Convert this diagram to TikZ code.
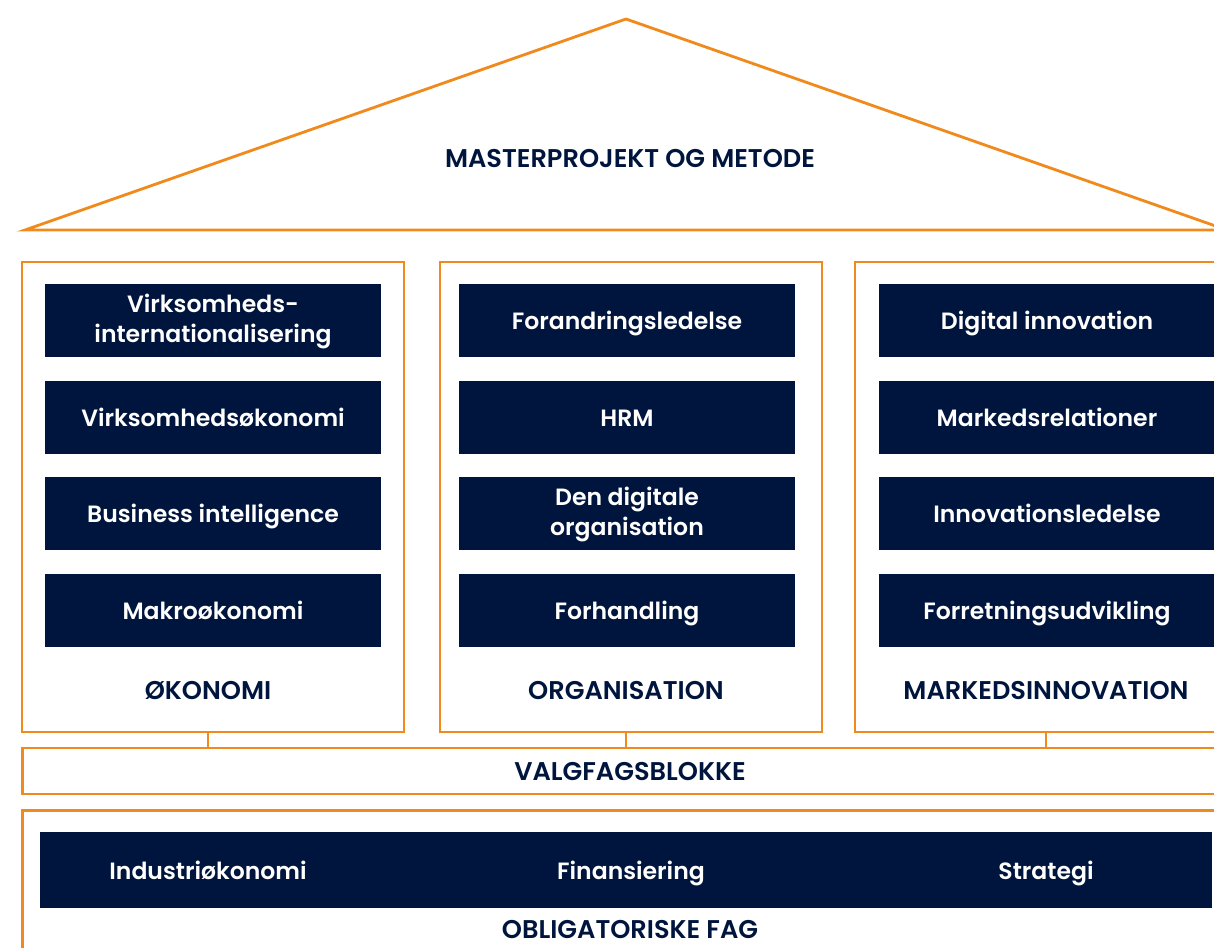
\documentclass[tikz,border=0pt]{standalone}
\usepackage{fontspec}
\setmainfont{Poppins}[BoldFont={Poppins SemiBold}]
\definecolor{navy}{RGB}{0,21,61}
\definecolor{roofline}{RGB}{240,138,28}
\tikzset{
  course/.style={fill=navy,text=white,minimum width=6.72cm,minimum height=1.46cm,
                 inner sep=0pt,align=center,text height=1.2em,text depth=0.15em,
                 font=\fontsize{13.4}{17}\selectfont\bfseries},
  twolines/.style={text height=2.72em},
  pillar/.style={draw=roofline,line width=1.6pt,minimum width=7.64cm,minimum height=9.4cm,inner sep=0pt},
  heading/.style={text=navy,font=\fontsize{14.6}{16}\selectfont\bfseries,inner sep=0pt}
}
\begin{document}
\begin{tikzpicture}[x=0.02cm,y=-0.02cm]
\useasboundingbox (0,0) rectangle (1214,947);
\clip (0,0) rectangle (1214,947);
% roof
\draw[roofline,line width=1.6pt,line join=miter] (25,230) -- (626,19) -- (1227,230) -- cycle;
\node[heading] (master) at (630,159) {MASTERPROJEKT OG METODE};
% pillars
\begin{scope}[every node/.style={pillar}]
    \node (oko) at (213,497) {};
    \node (org) at (631,497) {};
    \node (mkt) at (1046,497) {};
\end{scope}
\begin{scope}[every node/.style={course}]
    \node[twolines] (c11) at (213,320) {Virksomheds-\\internationalisering};
    \node (c12) at (213,417) {Virksomhedsøkonomi};
    \node (c13) at (213,513) {Business intelligence};
    \node (c14) at (213,610) {Makroøkonomi};
    \node (c21) at (627,320) {Forandringsledelse};
    \node (c22) at (627,417) {HRM};
    \node[twolines] (c23) at (627,513) {Den digitale\\organisation};
    \node (c24) at (627,610) {Forhandling};
    \node (c31) at (1047,320) {Digital innovation};
    \node (c32) at (1047,417) {Markedsrelationer};
    \node (c33) at (1047,513) {Innovationsledelse};
    \node (c34) at (1047,610) {Forretningsudvikling};
\end{scope}
\begin{scope}[every node/.style={heading}]
    \node (l1) at (208,690) {ØKONOMI};
    \node (l2) at (626,690) {ORGANISATION};
    \node (l3) at (1046,690) {MARKEDSINNOVATION};
\end{scope}
% valgfag
\node[draw=roofline,line width=1.6pt,minimum width=24.16cm,minimum height=0.92cm,inner sep=0pt] (valg) at (626,771) {};
\node[heading] (lvalg) at (630,771) {VALGFAGSBLOKKE};
\begin{scope}[roofline,line width=1.6pt]
    \draw (oko.south -| 208,0) -- (valg.north -| 208,0);
    \draw (org.south -| 626,0) -- (valg.north -| 626,0);
    \draw (mkt.south) -- (valg.north -| mkt.south);
\end{scope}
% obligatoriske fag
\node[draw=roofline,line width=1.6pt,minimum width=24.16cm,minimum height=3cm,inner sep=0pt,anchor=north] (oblig) at (626,809) {};
\node[fill=navy,minimum width=23.44cm,minimum height=1.52cm,inner sep=0pt] (bar) at (626,870) {};
\begin{scope}[every node/.style={text=white,text height=1.2em,text depth=0.15em,
                                 font=\fontsize{13.4}{17}\selectfont\bfseries}]
    \node (f1) at (208,870) {Industriøkonomi};
    \node (f2) at (631,870) {Finansiering};
    \node (f3) at (1046,870) {Strategi};
\end{scope}
\node[heading] (loblig) at (630,929) {OBLIGATORISKE FAG};
\end{tikzpicture}
\end{document}
